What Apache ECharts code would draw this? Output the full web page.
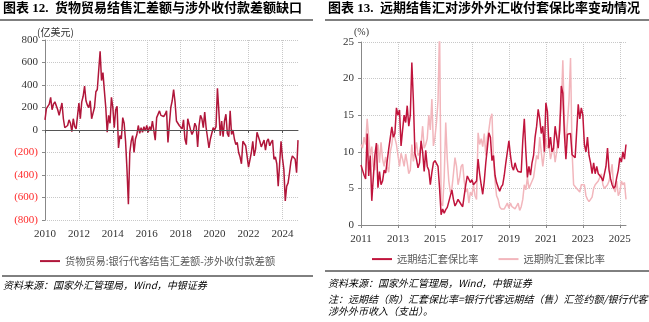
<!DOCTYPE html>
<html><head><meta charset="utf-8">
<script src="https://cdn.jsdelivr.net/npm/echarts@6/dist/echarts.min.js"></script>
<style>html,body{margin:0;padding:0;background:#fff}#c{width:649px;height:322px}</style>
</head><body><div id="c"></div>
<script>
// ---- data ----
function monthList(y0, m0, n) {
  const a = [];
  for (let i = 0; i < n; i++) {
    const y = y0 + Math.floor((m0 - 1 + i) / 12);
    const m = (m0 - 1 + i) % 12 + 1;
    a.push(y + '-' + (m < 10 ? '0' : '') + m);
  }
  return a;
}
const leftMonths = monthList(2010, 1, 180);   // 2010-01 .. 2024-12
const rightMonths = monthList(2011, 1, 173);  // 2011-01 .. 2025-05

const leftSeriesName = '货物贸易:银行代客结售汇差额-涉外收付款差额';
const tradeGap = [
  90,190,210,230,290,180,230,250,240,180,130,140,
  240,100,20,10,40,90,60,-15,100,30,10,-5,
  240,100,250,300,390,260,220,200,260,100,150,200,
  340,360,360,700,440,510,350,200,-20,130,60,290,
  200,20,180,210,-160,-50,-80,110,60,-100,-350,-660,
  -200,-100,-50,-200,-80,-40,40,-30,20,-20,30,-10,
  40,-20,30,0,80,90,-90,110,100,170,130,140,
  120,140,170,-110,50,200,260,360,250,80,60,40,
  30,10,90,-80,-130,100,50,0,-40,-10,60,30,
  -150,40,130,100,20,160,20,30,-160,-80,-90,20,
  0,30,370,170,-50,80,-60,80,140,-30,-60,170,
  -40,0,-80,-130,-110,-200,-240,-300,-100,-90,-140,-130,
  -330,-320,-200,-100,-230,-170,-20,-60,-100,-150,-120,-90,
  -180,-100,-80,-140,-110,-90,-260,-240,-300,-500,-300,-100,
  -250,-350,-630,-500,-470,-380,-280,-230,-230,-260,-380,-90
];

const settleName = '远期结汇套保比率';
const purchaseName = '远期购汇套保比率';
const settleRatio = [
  8.2,7.5,6.8,6.3,12.5,6.7,9.5,3.3,6.5,9.5,11.2,5.1,
  7.3,5.5,6.0,7.5,7.1,7.3,10.4,10.3,13.4,12,12.5,16,
  15,15.7,10.8,13,15,14,16.3,13.5,15,22.2,17,9.8,
  9,7.8,8.5,11.5,10,7.3,10.2,8,7.5,5.5,7.2,8.5,
  8.8,8.6,8,5,1.4,2.2,1.6,2.1,2.4,3.2,3.4,4.8,
  3.5,2.6,3.0,3.5,3.4,2.8,2.5,4,5.5,6.7,6.5,5.8,
  6.2,5.5,5.3,6.0,9,7,5.5,4.2,6,8.5,10.5,12.6,
  12,8.8,9.5,6.8,5.8,5.2,4.6,5.2,5.5,6.8,8.5,10,
  11.5,9.5,8,7.5,8.5,7.7,7.3,7.2,7.2,11.5,14.5,10,
  6.5,8,6.8,8.5,9.5,12,13.5,15.8,14.5,12.5,13.5,10,
  16.7,15.5,10.5,12,10,10.5,13.5,12,10.5,13,19,18,
  12.5,9,12.4,12.5,12.5,9.6,9.6,9.2,9,16.5,14.5,16,
  15,11,10,12,9.5,8.5,7,8.5,7,8,7,6.8,
  6.5,6,6,8,10.5,7.5,6.3,5.5,5,5.3,6.5,7.5,
  9.2,8.6,10,9,11
];
const purchaseRatio = [
  11,10.5,12,11,14.5,12,9.5,10.7,8,7.5,10,11,
  8.5,11.3,9,8,9.3,8,7.2,10,11,12.8,13,11,
  9.5,8,9.8,9,8,9.7,8.5,7,7.5,11,8.7,10,
  11.3,9.5,9.8,11,13.5,10.5,11,11.8,15,13,17.2,10.8,
  12,14,17,27,3,2.6,6.5,14,9,6,4.5,5,
  7,9.2,8,5.5,6.5,8,8.3,6,4.5,5,3,4.5,
  4,5.5,4,3.5,12.6,11,11.8,10.7,12.5,9.5,12,13,
  14.6,15.2,9,6,4,3.5,2.5,2.2,2.3,2.2,2,3,
  2.3,3,2.5,2.5,2.2,2,3,2,2.5,3.5,5.5,4.8,
  6.5,5,5.5,5.5,6.5,8,9.5,9,12,10,8,9.8,
  11.8,10.5,11,9,10,10.5,8.6,10,12,14,16,22.5,
  14,11,14,17,22.8,10,5.5,5.5,5,5,4.5,5.5,
  5.3,5.5,4,3.5,3.2,3.5,3.8,5,5.5,5.5,6,6,
  7,5.5,5,5,5.5,6,7,8.3,5,4.5,6,4,
  4.5,6,5.5,5.8,3.5
];

// ---- chart ----
const SERIF = '"Liberation Serif","Noto Sans CJK SC",serif';
const CJK = '"Noto Sans CJK SC","Liberation Serif",sans-serif';
const gridDot = { type: 'dotted', color: '#c8c8c8', width: 1 };
const chart = echarts.init(document.getElementById('c'), null, { renderer: 'canvas' });

const option = {
  animation: false,
  backgroundColor: '#fff',
  grid: [
    { left: 45, top: 40, width: 253, height: 180 },
    { left: 361, top: 42, width: 265, height: 183 }
  ],
  xAxis: [
    { gridIndex: 0, type: 'category', data: leftMonths, boundaryGap: false, position: 'bottom',
      axisLine: { show: false, onZero: false }, axisTick: { show: false },
      axisLabel: { interval: 23, formatter: v => v.slice(0, 4), fontFamily: SERIF, fontSize: 11, color: '#333', margin: 9 },
      splitLine: { show: true, interval: 23, lineStyle: gridDot } },
    { gridIndex: 0, type: 'category', data: leftMonths, boundaryGap: false, position: 'top',
      axisLine: { show: true, onZero: true, lineStyle: { color: '#555', width: 1 } },
      axisTick: { show: true, inside: true, interval: 23, length: 3, lineStyle: { color: '#555' } },
      axisLabel: { show: false }, splitLine: { show: false } },
    { gridIndex: 1, type: 'category', data: rightMonths, boundaryGap: false,
      axisLine: { show: true, onZero: false, lineStyle: { color: '#888', width: 1 } },
      axisTick: { show: true, interval: 23, length: 3, lineStyle: { color: '#888' } },
      axisLabel: { interval: 23, formatter: v => v.slice(0, 4), fontFamily: SERIF, fontSize: 11, color: '#333', margin: 9 },
      splitLine: { show: true, interval: 23, lineStyle: gridDot } }
  ],
  yAxis: [
    { gridIndex: 0, type: 'value', min: -800, max: 800, interval: 200,
      axisLine: { show: true, onZero: false, lineStyle: { color: '#888' } },
      axisTick: { show: true, length: 3, lineStyle: { color: '#888' } },
      axisLabel: { fontFamily: SERIF, fontSize: 11, margin: 7,
        formatter: v => v < 0 ? '(' + (-v) + ')' : String(v),
        color: v => (Number(v) < 0 ? '#ff2a2a' : '#333') },
      splitLine: { show: true, lineStyle: gridDot } },
    { gridIndex: 1, type: 'value', min: 0, max: 25, interval: 5,
      axisLine: { show: true, onZero: false, lineStyle: { color: '#888' } },
      axisTick: { show: true, length: 3, lineStyle: { color: '#888' } },
      axisLabel: { fontFamily: SERIF, fontSize: 11, color: '#333', margin: 7 },
      splitLine: { show: true, lineStyle: gridDot } }
  ],
  legend: [
    { data: [leftSeriesName], left: 40, top: 256, padding: 0, itemWidth: 20, itemHeight: 2, icon: 'rect',
      textStyle: { fontFamily: CJK, fontSize: 10.2, color: '#595959' } },
    { data: [settleName, purchaseName], left: 372, top: 254, padding: 0, itemWidth: 20, itemHeight: 2, icon: 'rect', itemGap: 20,
      textStyle: { fontFamily: CJK, fontSize: 10.2, color: '#595959' } }
  ],
  series: [
    { name: leftSeriesName, type: 'line', xAxisIndex: 0, yAxisIndex: 0, data: tradeGap,
      showSymbol: false, lineStyle: { color: '#B0163A', width: 1.5 }, itemStyle: { color: '#B0163A' },
      markLine: { silent: true, symbol: 'none', label: { show: false },
        lineStyle: { color: '#555', width: 1, type: 'solid' }, data: [{ yAxis: 0 }] } },
    { name: purchaseName, type: 'line', xAxisIndex: 2, yAxisIndex: 1, data: purchaseRatio,
      showSymbol: false, lineStyle: { color: '#F2B6BC', width: 1.5 }, itemStyle: { color: '#F2B6BC' } },
    { name: settleName, type: 'line', xAxisIndex: 2, yAxisIndex: 1, data: settleRatio,
      showSymbol: false, lineStyle: { color: '#C0143C', width: 1.5 }, itemStyle: { color: '#C0143C' } }
  ],
  graphic: [
    { type: 'text', left: 3, top: 2, style: { text: '图表 12.  货物贸易结售汇差额与涉外收付款差额缺口', font: 'bold 13px ' + SERIF, fill: '#000' } },
    { type: 'text', left: 328, top: 2, style: { text: '图表 13.  远期结售汇对涉外外汇收付套保比率变动情况', font: 'bold 13px ' + SERIF, fill: '#000' } },
    { type: 'line', shape: { x1: 0, y1: 20, x2: 313, y2: 20 }, style: { stroke: '#000', lineWidth: 1.2 } },
    { type: 'line', shape: { x1: 325, y1: 20, x2: 649, y2: 20 }, style: { stroke: '#000', lineWidth: 1.2 } },
    { type: 'text', left: 37, top: 27, style: { text: '(亿美元)', font: '10px ' + CJK, fill: '#333' } },
    { type: 'text', left: 354, top: 27, style: { text: '(%)', font: '10px ' + SERIF, fill: '#333' } },
    { type: 'line', shape: { x1: 2, y1: 276, x2: 313, y2: 276 }, style: { stroke: '#000', lineWidth: 1 } },
    { type: 'line', shape: { x1: 325, y1: 271, x2: 649, y2: 271 }, style: { stroke: '#000', lineWidth: 1 } },
    { type: 'text', left: 3, top: 280, style: { text: '资料来源：国家外汇管理局，Wind，中银证券', font: 'italic 10px ' + CJK, fill: '#000' } },
    { type: 'text', left: 328, top: 278, style: { text: '资料来源：国家外汇管理局，Wind，中银证券', font: 'italic 10px ' + CJK, fill: '#000' } },
    { type: 'text', left: 328, top: 294, style: { text: '注：远期结（购）汇套保比率=银行代客远期结（售）汇签约额/银行代客', font: 'italic 10px ' + CJK, fill: '#000' } },
    { type: 'text', left: 328, top: 306, style: { text: '涉外外币收入（支出）。', font: 'italic 10px ' + CJK, fill: '#000' } }
  ]
};
chart.setOption(option);
</script>
</body></html>
